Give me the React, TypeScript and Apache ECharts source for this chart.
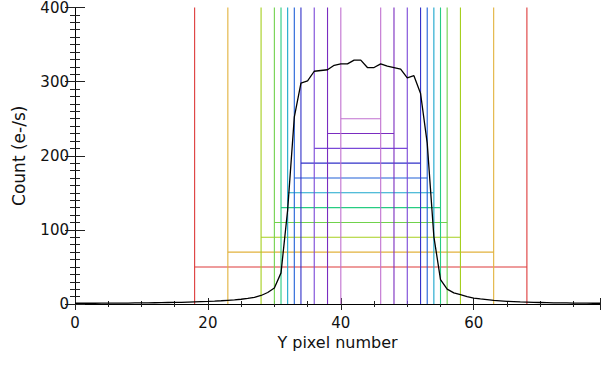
import React, { useEffect, useRef } from "react";
import * as echarts from "echarts";

const xPixels = [
  0, 1, 2, 3, 4, 5, 6, 7, 8, 9, 10, 11, 12, 13, 14, 15, 16, 17, 18, 19,
  20, 21, 22, 23, 24, 25, 26, 27, 28, 29, 30, 31, 32, 33, 34, 35, 36, 37, 38, 39,
  40, 41, 42, 43, 44, 45, 46, 47, 48, 49, 50, 51, 52, 53, 54, 55, 56, 57, 58, 59,
  60, 61, 62, 63, 64, 65, 66, 67, 68, 69, 70, 71, 72, 73, 74, 75, 76, 77, 78, 79,
];
const counts = [
  1.0, 1.0, 1.0, 1.0, 1.1, 1.1, 1.2, 1.2, 1.3, 1.4, 1.5, 1.6, 1.7, 1.8, 2.0, 2.1, 2.3, 2.6, 2.9, 3.2,
  3.5, 3.9, 4.4, 5.0, 5.6, 6.4, 7.5, 9.0, 11.5, 15.5, 21.5, 42, 127, 252, 298, 301, 314, 315, 316, 322,
  324, 324, 329, 329, 319, 319, 324, 321, 319, 317, 305, 308, 284, 217, 91, 33, 20, 15, 12.5, 10,
  8, 6.8, 5.8, 4.8, 4.2, 3.6, 3.2, 2.8, 2.5, 2.2, 2.0, 1.8, 1.6, 1.5, 1.4, 1.3, 1.2, 1.1, 1.0, 1.0,
];

const boxLeft = [18, 23, 28, 30, 31, 32, 33, 34, 36, 38, 40];
const boxRight = [68, 63, 58, 56, 55, 54, 53, 52, 50, 48, 46];
const boxLevel = [50, 70, 90, 110, 130, 150, 170, 190, 210, 230, 250];
const boxColor = [
  "#dd3a3a", "#e2b23c", "#a6cf1e", "#70d24c", "#26cc82", "#1aa6cc",
  "#2060d8", "#3030c8", "#7a48d8", "#7a2cc0", "#c070d0",
];

const xTickLabels = ["0", "20", "40", "60"];
const yTickLabels = ["0", "100", "200", "300", "400"];

const FONT = "DejaVu Sans";

export default function App() {
  const ref = useRef<HTMLDivElement>(null);
  useEffect(() => {
    if (!ref.current) return;
    const chart = echarts.init(ref.current, undefined, { renderer: "svg" });

    const series: any[] = [];
    boxLeft.forEach((L, i) => {
      const R = boxRight[i];
      const lv = boxLevel[i];
      const base = {
        type: "line",
        symbol: "none",
        silent: true,
        animation: false,
        lineStyle: { color: boxColor[i], width: 1.1 },
        z: 2,
      };
      series.push({ ...base, data: [[L, 0], [L, 400]] });
      series.push({ ...base, data: [[R, 0], [R, 400]] });
      series.push({ ...base, data: [[L, lv], [R, lv]] });
    });
    series.push({
      type: "line",
      symbol: "none",
      silent: true,
      animation: false,
      lineStyle: { color: "#000", width: 1.3 },
      z: 5,
      data: xPixels.map((x, i) => [x, counts[i]]),
    });

    const axisLineStyle = { show: true, lineStyle: { color: "#000", width: 1 } };
    const xCommon = {
      type: "value",
      min: 0,
      max: 79,
      interval: 20,
      splitLine: { show: false },
      axisLine: axisLineStyle,
      axisTick: { show: true, inside: true, length: 6, lineStyle: { color: "#222" } },
      minorTick: { show: true, splitNumber: 4, length: 3, lineStyle: { color: "#222" } },
    };
    const yCommon = {
      type: "value",
      min: 0,
      max: 400,
      interval: 100,
      splitLine: { show: false },
      axisLine: axisLineStyle,
      axisTick: { show: true, inside: true, length: 10, lineStyle: { color: "#222" } },
      minorTick: { show: true, splitNumber: 10, length: 5, lineStyle: { color: "#222" } },
    };

    chart.setOption({
      animation: false,
      backgroundColor: "#fff",
      grid: { left: 75, right: 0, top: 7, bottom: 61, containLabel: false },
      xAxis: [
        {
          ...xCommon,
          position: "bottom",
          name: "Y pixel number",
          nameLocation: "middle",
          nameGap: 24,
          nameTextStyle: { fontFamily: FONT, fontSize: 16, color: "#111" },
          axisLabel: {
            show: true,
            margin: 11,
            fontFamily: FONT,
            fontSize: 15,
            color: "#111",
            formatter: (v: number) => (xTickLabels.includes(String(v)) ? String(v) : ""),
          },
        },
        { ...xCommon, position: "top", axisLabel: { show: false } },
      ],
      yAxis: [
        {
          ...yCommon,
          position: "left",
          name: "Count (e-/s)",
          nameLocation: "middle",
          nameGap: 48,
          nameRotate: 90,
          nameTextStyle: { fontFamily: FONT, fontSize: 17, color: "#111" },
          axisLabel: {
            show: true,
            margin: 6,
            fontFamily: FONT,
            fontSize: 15,
            color: "#111",
            formatter: (v: number) => (yTickLabels.includes(String(v)) ? String(v) : ""),
          },
        },
        { ...yCommon, position: "right", axisLabel: { show: false } },
      ],
      series,
    });
    return () => chart.dispose();
  }, []);
  return (
    <div
      ref={ref}
      style={{ position: "absolute", left: 0, top: 0, width: 603, height: 365 }}
    />
  );
}
